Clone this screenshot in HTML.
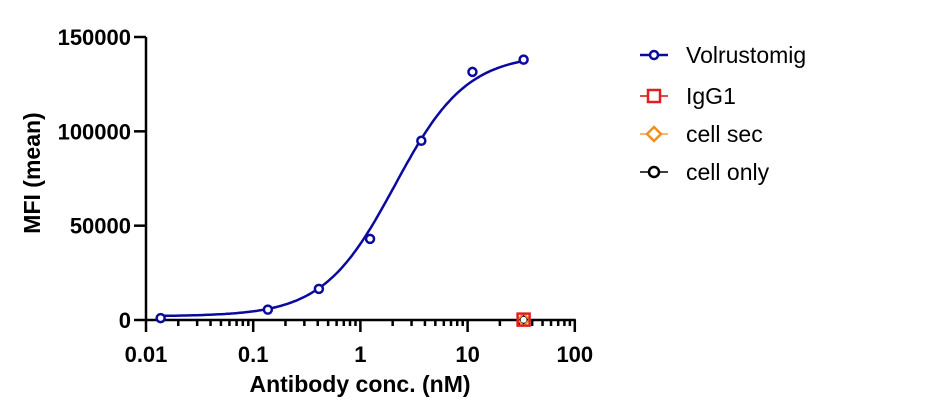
<!DOCTYPE html>
<html><head><meta charset="utf-8"><style>
body{margin:0;background:#fff;font-family:"Liberation Sans",Arial,sans-serif}
svg text{font-family:"Liberation Sans",Arial,sans-serif}
</style></head><body>
<svg id="chart" width="952" height="414">
<g id="axes"></g><g id="marks"></g>
<g font-size="23">
 <g><line x1="640" y1="55" x2="668" y2="55" stroke="#0a0aa0" stroke-width="2.5"/><circle cx="654" cy="55" r="4" fill="#fff" stroke="#0a0aa0" stroke-width="2.5"/><text x="686" y="63">Volrustomig</text></g>
 <g><line x1="640" y1="96" x2="668" y2="96" stroke="#d01010" stroke-width="1.5"/><rect x="648" y="90" width="12" height="12" fill="#fff" stroke="#e02020" stroke-width="2.5"/><text x="686" y="104">IgG1</text></g>
 <g><line x1="640" y1="134" x2="668" y2="134" stroke="#f0a040" stroke-width="1.5"/><path d="M654 127 L661 134 L654 141 L647 134Z" fill="#fff" stroke="#f09020" stroke-width="2.5"/><text x="686" y="142">cell sec</text></g>
 <g><line x1="640" y1="172" x2="668" y2="172" stroke="#000" stroke-width="1.5"/><circle cx="654" cy="172" r="5" fill="#fff" stroke="#000" stroke-width="2.5"/><text x="686" y="180">cell only</text></g>
</g>
</svg>
<script>
const concs=[0.0137,0.137,0.41,1.23,3.7,11.1,33.3];
const volValues=[1000,5500,16500,43000,95000,131500,138000];
const iggConc=[33.3];const iggValues=[200];
const secValues=[150];const onlyValues=[100];
const fitParams=[2000,141000,2.1,1.3]; // bottom, top, EC50, hill
const yTicks=[0,50000,100000,150000];
const xTicks=[0.01,0.1,1,10,100];
const xTickLabels=["0.01","0.1","1","10","100"];

const NS="http://www.w3.org/2000/svg";
const X0=146,DEC=107.2,Y0=320,YT=37;
const xs=v=>X0+(Math.log10(v)+2)*DEC;
const ys=v=>Y0-(v/150000)*(Y0-YT);
function mk(p,t,a){const e=document.createElementNS(NS,t);for(const k in a)e.setAttribute(k,a[k]);p.appendChild(e);return e;}
const ax=document.getElementById('axes'),mg=document.getElementById('marks');
let l=mk(ax,'line',{x1:X0,y1:YT,x2:X0,y2:Y0,stroke:'#000','stroke-width':2.5});


l=mk(ax,'line',{x1:X0,y1:Y0,x2:xs(100)+1,y2:Y0,stroke:'#000','stroke-width':2.5});


yTicks.forEach(v=>{
 const y=ys(v);
 mk(ax,'line',{x1:X0-12,y1:y,x2:X0,y2:y,stroke:'#000','stroke-width':2.5});
 const t=mk(ax,'text',{x:X0-15,y:y+8,'text-anchor':'end','font-size':22,'font-weight':'bold'});
 t.textContent=v;
 
 
});
xTicks.forEach((v,i)=>{
 const x=xs(v);
 mk(ax,'line',{x1:x,y1:Y0,x2:x,y2:Y0+12,stroke:'#000','stroke-width':2.5});
 const t=mk(ax,'text',{x:x,y:Y0+42,'text-anchor':'middle','font-size':22,'font-weight':'bold'});
 t.textContent=xTickLabels[i];
 
 
 if(i<xTicks.length-1)for(let m=2;m<=9;m++){const xm=xs(v*m);mk(ax,'line',{x1:xm,y1:Y0,x2:xm,y2:Y0+6,stroke:'#000','stroke-width':2.5});}
});
let t=mk(ax,'text',{x:360,y:392,'text-anchor':'middle','font-size':23,'font-weight':'bold'});
t.textContent='Antibody conc. (nM)';


t=mk(ax,'text',{x:0,y:0,'text-anchor':'middle','font-size':23,'font-weight':'bold',transform:'translate(40,173) rotate(-90)'});
t.textContent='MFI (mean)';


const [B,T,EC,H]=fitParams;let d='';
for(let lx=Math.log10(concs[0]);lx<=Math.log10(concs[concs.length-1])+0.001;lx+=0.02){
 const c=Math.pow(10,lx);const y=B+(T-B)/(1+Math.pow(EC/c,H));
 d+=(d?'L':'M')+xs(c).toFixed(1)+' '+ys(y).toFixed(1);}
const p=mk(mg,'path',{d:d,fill:'none',stroke:'#0a0aa0','stroke-width':2.5});


concs.forEach((c,i)=>{
 const e=mk(mg,'circle',{cx:xs(c),cy:ys(volValues[i]),r:4,fill:'#fff',stroke:'#0a0aa0','stroke-width':2.5});
 
 
});
iggConc.forEach((c,i)=>{
 let e=mk(mg,'circle',{cx:xs(c),cy:ys(onlyValues[i]),r:4,fill:'#fff',stroke:'#000','stroke-width':2});
 
 
 const x=xs(c),y=ys(secValues[i]);
 e=mk(mg,'path',{d:`M${x} ${y-6}L${x+6} ${y}L${x} ${y+6}L${x-6} ${y}Z`,fill:'none',stroke:'#f09020','stroke-width':2});
 
 
 e=mk(mg,'rect',{x:xs(c)-6,y:ys(iggValues[i])-6,width:12,height:12,fill:'none',stroke:'#e02020','stroke-width':2.5});
 
 
});
</script>
</body></html>
